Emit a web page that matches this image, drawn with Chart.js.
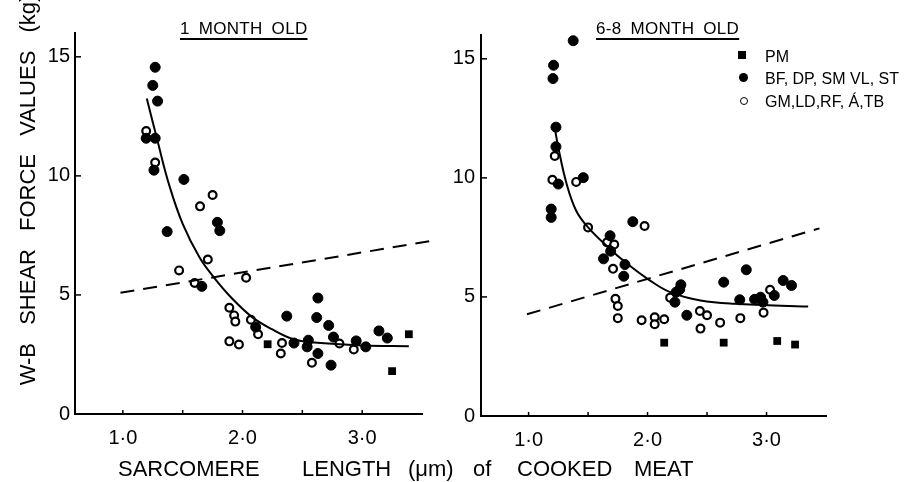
<!DOCTYPE html>
<html>
<head>
<meta charset="utf-8">
<script src="https://cdn.jsdelivr.net/npm/chart.js@4.4.1/dist/chart.umd.min.js"></script>
<style>
  body { margin: 0; background: #fff; }
  #wrap { position: relative; width: 922px; height: 482px; overflow: hidden; background: #fff;
          font-family: 'Liberation Sans', Arial, sans-serif; color: #000; }
  canvas { position: absolute; top: 0; }
  .txt { position: absolute; white-space: nowrap; }
  .panel-title { font-size: 17px; line-height: 17px; top: 20px; word-spacing: 4px; letter-spacing: 0.3px;
                 text-decoration: underline; text-underline-offset: 4px; text-decoration-thickness: 1.5px; }
  .xword { font-size: 22px; line-height: 22px; top: 458px; }
  #ylab { font-size: 22px; line-height: 24px; height: 24px; width: 460px; text-align: center;
          left: -202px; top: 178px; transform: rotate(-90deg); word-spacing: 12px; }
  .leg { font-size: 16px; line-height: 16px; left: 765px; }
  .mk { position: absolute; box-sizing: border-box; }
</style>
</head>
<body>
<div id="wrap">
  <canvas id="c1" width="440" height="482" style="left:0px"></canvas>
  <canvas id="c2" width="482" height="482" style="left:440px"></canvas>

  <div class="txt panel-title" style="left:180px">1 MONTH OLD</div>
  <div class="txt panel-title" style="left:596px">6-8 MONTH OLD</div>

  <div class="txt" id="ylab">W-B SHEAR FORCE VALUES (kg)</div>

  <div class="txt xword" style="left:118px">SARCOMERE</div>
  <div class="txt xword" style="left:302px">LENGTH</div>
  <div class="txt xword" style="left:408px">(μm)</div>
  <div class="txt xword" style="left:473px">of</div>
  <div class="txt xword" style="left:517px">COOKED</div>
  <div class="txt xword" style="left:634px">MEAT</div>

  <div class="mk" style="left:738px;top:51px;width:8px;height:8px;background:#000"></div>
  <div class="txt leg" style="top:49px">PM</div>
  <div class="mk" style="left:739px;top:73px;width:9px;height:9px;border-radius:50%;background:#000"></div>
  <div class="txt leg" style="top:71px">BF, DP, SM VL, ST</div>
  <div class="mk" style="left:740px;top:97px;width:8px;height:8px;border-radius:50%;border:1.5px solid #000"></div>
  <div class="txt leg" style="top:94px">GM,LD,RF, Á,TB</div>
</div>

<script>
// ---- axes ----
const xMin = 0.6, xMax = 3.5;
const yMin = 0, yMax = 16;
const xTickValues = [1.0, 1.5, 2.0, 2.5, 3.0];
const yTickValues = [0, 5, 10, 15];

// ---- 1 month old ----
const m1PM = [[2.21, 2.93], [3.39, 3.35], [3.25, 1.8]];
const m1Filled = [
  [1.27, 14.56], [1.25, 13.8], [1.29, 13.14], [1.195, 11.58], [1.27, 11.58], [1.26, 10.24],
  [1.51, 9.85], [1.79, 8.05], [1.81, 7.7], [1.37, 7.66], [1.66, 5.36], [2.11, 3.65],
  [2.37, 4.11], [2.43, 2.98], [2.63, 4.87], [2.62, 4.05], [2.72, 3.72], [2.76, 3.23],
  [2.55, 3.10], [2.54, 2.82], [2.63, 2.54], [2.74, 2.05], [2.95, 3.07], [3.03, 2.82],
  [3.14, 3.49], [3.21, 3.19]
];
const m1Open = [
  [1.195, 11.88], [1.27, 10.56], [1.75, 9.2], [1.645, 8.72], [1.71, 6.49], [1.47, 6.03],
  [2.03, 5.72], [1.6, 5.5], [1.89, 4.46], [1.93, 4.14], [1.94, 3.88], [2.07, 3.96],
  [2.13, 3.35], [1.89, 3.05], [1.97, 2.92], [2.33, 2.98], [2.32, 2.54], [2.58, 2.15],
  [2.81, 2.96], [2.93, 2.71]
];
const m1Curve = [
  [1.2, 13.25], [1.29, 11.46], [1.385, 9.65], [1.5, 7.98], [1.64, 6.58], [1.76, 5.74],
  [1.915, 4.84], [2.08, 4.07], [2.25, 3.55], [2.42, 3.15], [2.6, 3.0], [3.0, 2.88], [3.39, 2.85]
];
const m1Dashed = [[0.98, 5.09], [3.59, 7.28]];

// ---- 6-8 month old ----
const m6PM = [[2.14, 3.08], [2.64, 3.08], [3.09, 3.15], [3.24, 3.0]];
const m6Filled = [
  [1.375, 15.76], [1.21, 14.73], [1.205, 14.17], [1.23, 12.13], [1.23, 11.31], [1.25, 9.74],
  [1.46, 10.01], [1.19, 8.69], [1.19, 8.34], [1.876, 8.16], [1.685, 7.57], [1.69, 6.92],
  [1.63, 6.6], [1.81, 6.36], [1.80, 5.87], [2.23, 4.78], [2.27, 5.31], [2.28, 5.51],
  [2.24, 5.2], [2.33, 4.23], [2.64, 5.62], [2.83, 6.14], [2.775, 4.88], [2.90, 4.9],
  [2.95, 4.99], [2.97, 4.78], [3.065, 5.06], [3.14, 5.69], [3.21, 5.48]
];
const m6Open = [
  [1.22, 10.92], [1.2, 9.92], [1.40, 9.83], [1.50, 7.92], [1.975, 7.98], [1.66, 7.29],
  [1.72, 7.2], [1.71, 6.18], [1.73, 4.92], [1.75, 4.62], [1.75, 4.11], [1.95, 4.02],
  [2.06, 4.15], [2.06, 3.85], [2.14, 4.06], [2.19, 4.97], [2.44, 4.41], [2.50, 4.23],
  [2.445, 3.67], [2.61, 3.92], [2.78, 4.11], [3.03, 5.30], [2.975, 4.34]
];
const m6Curve = [
  [1.22, 12.1], [1.25, 11.27], [1.32, 9.74], [1.40, 8.62], [1.50, 7.92], [1.67, 7.08],
  [1.83, 6.39], [2.0, 5.76], [2.19, 5.2], [2.445, 4.85], [2.73, 4.71], [3.35, 4.6]
];
const m6Dashed = [[0.986, 4.27], [3.445, 7.88]];

const FONT = "'Liberation Sans', Arial, sans-serif";
const pts = arr => arr.map(p => ({ x: p[0], y: p[1] }));

// small tick marks pointing into the plot, like the printed figure
const innerTicks = {
  id: 'innerTicks',
  afterDraw(chart) {
    const { ctx, chartArea, scales } = chart;
    ctx.save();
    ctx.strokeStyle = '#000';
    ctx.lineWidth = 1.5;
    scales.x.ticks.forEach(t => {
      const px = scales.x.getPixelForValue(t.value);
      ctx.beginPath(); ctx.moveTo(px, chartArea.bottom); ctx.lineTo(px, chartArea.bottom - 4); ctx.stroke();
    });
    scales.y.ticks.forEach(t => {
      if (t.value === 0) return;
      const py = scales.y.getPixelForValue(t.value);
      ctx.beginPath(); ctx.moveTo(chartArea.left, py); ctx.lineTo(chartArea.left + 6, py); ctx.stroke();
    });
    ctx.restore();
  }
};

function createPanel(canvasId, pm, filled, open, curve, dashed, box) {
  const ctx = document.getElementById(canvasId).getContext('2d');
  new Chart(ctx, {
    type: 'scatter',
    data: {
      datasets: [
        { data: pts(dashed), showLine: true, borderColor: '#000', borderWidth: 2, borderDash: [14, 9],
          pointRadius: 0, clip: false },
        { data: pts(curve), showLine: true, borderColor: '#000', borderWidth: 2, tension: 0.4,
          pointRadius: 0 },
        { data: pts(pm), pointStyle: 'rect', pointRadius: 5.5, backgroundColor: '#000',
          borderColor: '#000', borderWidth: 0 },
        { data: pts(filled), pointStyle: 'circle', pointRadius: 5, backgroundColor: '#000',
          borderColor: '#000', borderWidth: 1 },
        { data: pts(open), pointStyle: 'circle', pointRadius: 3.9, backgroundColor: '#fff',
          borderColor: '#000', borderWidth: 2.2 }
      ]
    },
    options: {
      responsive: false,
      animation: false,
      layout: { padding: { left: 0, right: box.right, top: box.top, bottom: 0 } },
      plugins: { legend: { display: false }, tooltip: { enabled: false } },
      scales: {
        x: {
          type: 'linear', min: xMin, max: xMax,
          afterBuildTicks: s => { s.ticks = xTickValues.map(v => ({ value: v })); },
          afterFit: s => { s.height = box.xh; },
          grid: { display: false, drawTicks: false },
          border: { display: true, color: '#000', width: 2 },
          ticks: {
            autoSkip: false, maxRotation: 0, color: '#000', padding: 12,
            font: { family: FONT, size: 20 },
            callback: v => Number.isInteger(v) ? v.toFixed(1).replace('.', '·') : ''
          }
        },
        y: {
          type: 'linear', min: yMin, max: yMax,
          afterBuildTicks: s => { s.ticks = yTickValues.map(v => ({ value: v })); },
          afterFit: s => { s.width = box.yw; },
          grid: { display: false, drawTicks: false },
          border: { display: true, color: '#000', width: 2 },
          ticks: { autoSkip: false, color: '#000', padding: box.ypad, font: { family: FONT, size: 20 } }
        }
      }
    },
    plugins: [innerTicks]
  });
}

createPanel('c1', m1PM, m1Filled, m1Open, m1Curve, m1Dashed, { right: 18, top: 33, xh: 68, yw: 75, ypad: 5 });
createPanel('c2', m6PM, m6Filled, m6Open, m6Curve, m6Dashed, { right: 96, top: 35, xh: 66, yw: 41, ypad: 6 });
</script>
</body>
</html>
